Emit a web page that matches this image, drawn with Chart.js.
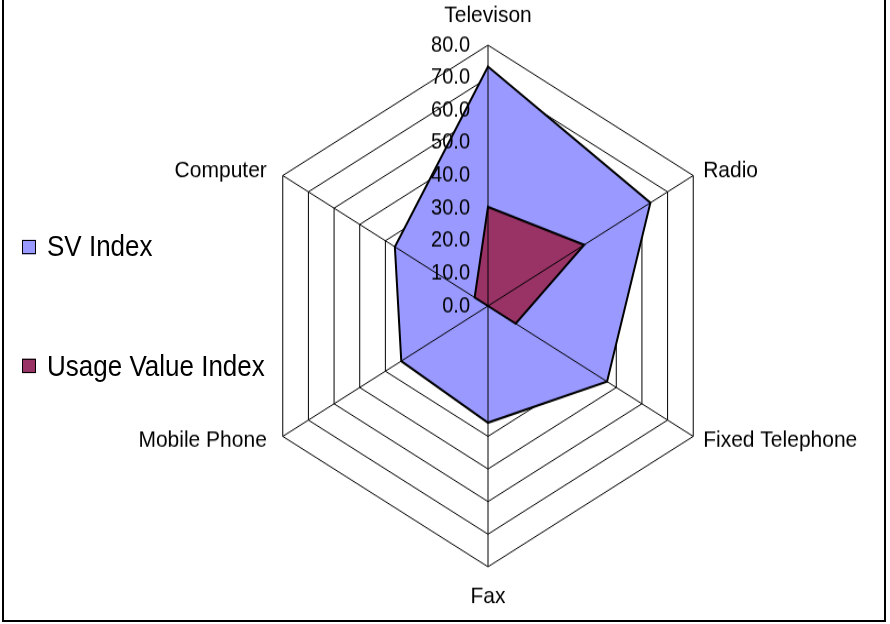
<!DOCTYPE html>
<html>
<head>
<meta charset="utf-8">
<script src="https://cdn.jsdelivr.net/npm/chart.js@4/dist/chart.umd.min.js"></script>
<style>
  html, body { margin: 0; padding: 0; background: #fff; overflow: hidden; }
  /* the reference is a bit taller than wide, so the whole chart is stretched vertically */
  #wrap { position: absolute; left: 0; top: 0; width: 890px; height: 567px; transform: scaleY(1.1005); transform-origin: 0 0; }
  #frame { position: absolute; left: 2px; top: -3px; width: 880px; height: 621px; border: 2px solid #000; }
  #legend { position: absolute; left: 22px; top: 0; font-family: "Liberation Sans", Arial, sans-serif; font-size: 26px; color: #000; }
  .leg-item { position: absolute; left: 0; height: 30px; line-height: 30px; white-space: nowrap; display: flex; align-items: center; }
  .leg-box { width: 12px; height: 11px; border: 1px solid #000; margin-right: 11px; }
</style>
</head>
<body>
<div id="wrap">
  <canvas id="radarChart" width="890" height="567"></canvas>
  <div id="legend"></div>
</div>
<div id="frame"></div>
<script>
const categories = ['Televison', 'Radio', 'Fixed Telephone', 'Fax', 'Mobile Phone', 'Computer'];
const svIndex = [73.4, 63.3, 46.4, 35.8, 33.8, 36.3];
const usageIndex = [30.4, 37.5, 10.8, 0, 0, 5.2];
const seriesNames = ['SV Index', 'Usage Value Index'];
const seriesColors = ['#9999ff', '#993366'];
const tickValues = [0, 10, 20, 30, 40, 50, 60, 70, 80];

const FONT = '"Liberation Sans", Arial, sans-serif';

// excel look: spokes on top of the fills, tick labels left of the axis (incl. 0.0), point labels
const radarExtras = {
    id: 'radarExtras',
    afterDatasetsDraw(chart) {
        const ctx = chart.ctx;
        const r = chart.scales.r;
        ctx.save();
        ctx.strokeStyle = '#000';
        ctx.lineWidth = 1;
        categories.forEach((c, i) => {
            const p = r.getPointPosition(i, r.drawingArea);
            ctx.beginPath();
            ctx.moveTo(r.xCenter, r.yCenter);
            ctx.lineTo(p.x, p.y);
            ctx.stroke();
        });

        ctx.fillStyle = '#000';
        ctx.font = '20px ' + FONT;
        ctx.textAlign = 'right';
        ctx.textBaseline = 'middle';
        tickValues.forEach(v => {
            ctx.fillText(v.toFixed(1), r.xCenter - 18, r.yCenter - r.getDistanceFromCenterForValue(v));
        });

        ctx.font = '21px ' + FONT;
        categories.forEach((c, i) => {
            const p = r.getPointPosition(i, r.drawingArea + 8);
            const dx = p.x - r.xCenter;
            if (Math.abs(dx) < 1) {
                const q = r.getPointPosition(i, r.drawingArea + 27);
                ctx.textAlign = 'center';
                ctx.fillText(c, q.x, q.y);
            } else if (dx > 0) {
                ctx.textAlign = 'left';
                ctx.fillText(c, p.x + 3, p.y);
            } else {
                ctx.textAlign = 'right';
                ctx.fillText(c, p.x - 9, p.y);
            }
        });
        ctx.restore();
    }
};

new Chart(document.getElementById('radarChart'), {
    type: 'radar',
    data: {
        labels: categories,
        datasets: [
            {
                label: seriesNames[0],
                data: svIndex,
                backgroundColor: seriesColors[0],
                borderColor: '#000',
                borderWidth: 2,
                pointRadius: 0,
                fill: true,
                order: 2
            },
            {
                label: seriesNames[1],
                data: usageIndex,
                backgroundColor: seriesColors[1],
                borderColor: '#000',
                borderWidth: 2,
                pointRadius: 0,
                fill: true,
                order: 1
            }
        ]
    },
    options: {
        responsive: false,
        animation: false,
        devicePixelRatio: 1,
        layout: { padding: { top: 41, bottom: 52, left: 251, right: 165 } },
        plugins: {
            legend: { display: false },
            tooltip: { enabled: false }
        },
        scales: {
            r: {
                min: 0,
                max: 80,
                ticks: { stepSize: 10, display: false },
                grid: { color: '#000', lineWidth: 1 },
                angleLines: { display: false },
                pointLabels: { display: false }
            }
        }
    },
    plugins: [radarExtras]
});

// legend on the left, built from the series arrays
document.getElementById('legend').innerHTML = seriesNames.map((name, i) => `
    <div class="leg-item" style="top:${209 + i * 108.6}px;">
        <div class="leg-box" style="background:${seriesColors[i]};"></div>${name}
    </div>
`).join('');
</script>
</body>
</html>
